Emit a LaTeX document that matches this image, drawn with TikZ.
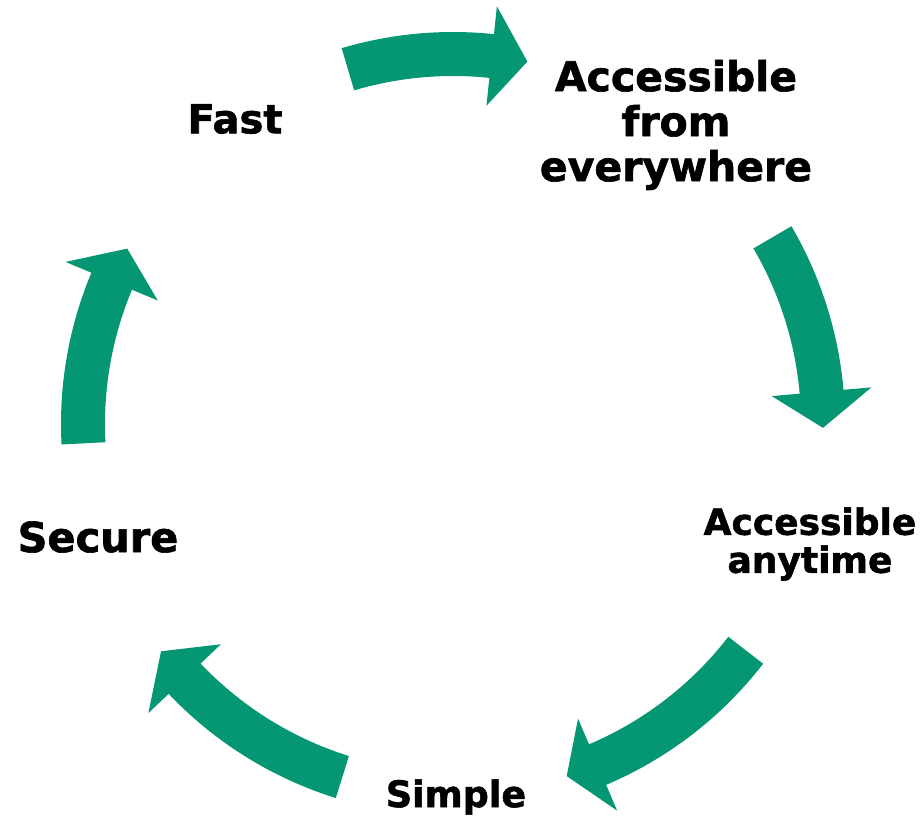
\documentclass[tikz,border=0pt]{standalone}
\usepackage{fontspec}
\setmainfont{DejaVu Sans}[BoldFeatures={FakeBold=1.5}]
\definecolor{cyclegreen}{RGB}{5,150,115}
% curved block arrow: start angle, angle of the head base, tip angle
\newcommand{\cyclearrow}[3]{%
  \fill[cyclegreen] (#1:392pt) arc[start angle=#1, end angle=#2, radius=392pt]
    -- (#2:420pt) -- (#3:370pt) -- (#2:320pt) -- (#2:348pt)
    arc[start angle=#2, end angle=#1, radius=348pt] -- cycle;}

\begin{document}
\begin{tikzpicture}[x=1pt,y=1pt,
  lbl/.style={inner sep=0pt, align=center}]
\useasboundingbox (-453,-398) rectangle (471,424);
\cyclearrow{106.5}{84}{78.4}
\cyclearrow{30.3}{5}{-0.6}
\cyclearrow{-37.7}{-67}{-72.1}
\cyclearrow{-107.4}{-136.5}{-142.1}
\cyclearrow{183}{157.3}{151.7}
\node[lbl, font=\bfseries\fontsize{41}{45}\selectfont] (everywhere) at (223,299) {Accessible\\from\\everywhere};
\node[lbl, font=\bfseries\fontsize{36}{38}\selectfont] (anytime) at (357,-120) {Accessible\\anytime};
\node[lbl, font=\bfseries\fontsize{36.5}{38}\selectfont] (simple) at (3,-373) {Simple};
\node[lbl, font=\bfseries\fontsize{41.5}{45}\selectfont] (secure) at (-355,-113) {Secure};
\node[lbl, font=\bfseries\fontsize{40}{44}\selectfont] (fast) at (-218,305) {Fast};
\end{tikzpicture}
\end{document}
